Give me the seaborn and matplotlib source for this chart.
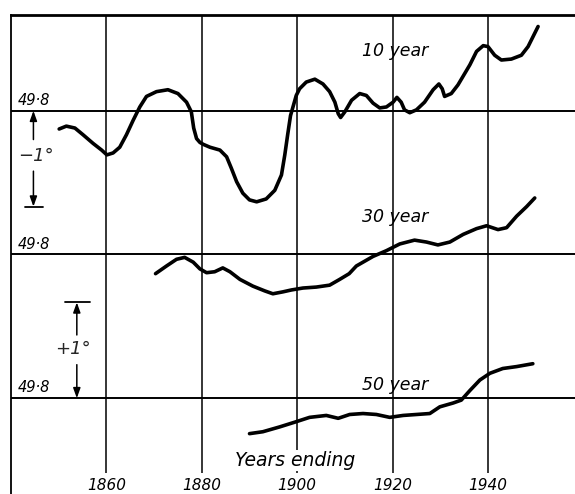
import numpy as np
import pandas as pd
import matplotlib
matplotlib.use("Agg")
import matplotlib.pyplot as plt
import seaborn as sns

# ---- data (deg F departures from 49.8, running means, years ending) ----
base_temp = 49.8

years_10 = [1850.1, 1851.6, 1853.4, 1855.1, 1857.2, 1859.0, 1860.1, 1861.4, 1862.8, 1864.2,
            1865.6, 1867.0, 1868.4, 1870.5, 1872.9, 1875.0, 1876.8, 1877.8, 1878.3, 1878.9,
            1879.6, 1880.3, 1881.7, 1883.8, 1885.2, 1886.2, 1887.3, 1888.6, 1890.0, 1891.5,
            1893.5, 1895.3, 1896.7, 1897.4, 1898.0, 1898.6, 1899.8, 1900.5, 1901.9, 1903.7,
            1905.4, 1906.8, 1907.9, 1908.6, 1909.1, 1910.0, 1911.4, 1913.1, 1914.5, 1915.9,
            1917.3, 1918.7, 1920.1, 1920.9, 1921.8, 1922.5, 1923.6, 1925.0, 1926.7, 1928.5,
            1929.7, 1930.4, 1930.9, 1932.3, 1933.7, 1936.2, 1937.6, 1939.0, 1940.0, 1941.4,
            1942.8, 1944.9, 1947.0, 1948.4, 1950.5]
dev_10 = [-0.19, -0.16, -0.18, -0.25, -0.34, -0.41, -0.46, -0.44, -0.38, -0.25,
          -0.10, 0.04, 0.15, 0.20, 0.22, 0.18, 0.09, -0.01, -0.18, -0.29,
          -0.33, -0.35, -0.38, -0.41, -0.48, -0.60, -0.74, -0.86, -0.93, -0.95,
          -0.92, -0.83, -0.67, -0.46, -0.25, -0.05, 0.16, 0.23, 0.30, 0.33,
          0.28, 0.20, 0.09, -0.03, -0.07, -0.01, 0.11, 0.18, 0.16, 0.08,
          0.03, 0.04, 0.09, 0.14, 0.09, 0.01, -0.02, 0.01, 0.09, 0.22,
          0.28, 0.23, 0.15, 0.18, 0.27, 0.48, 0.62, 0.68, 0.67, 0.58,
          0.53, 0.54, 0.58, 0.67, 0.88]

years_30 = [1870.3, 1872.6, 1874.7, 1876.4, 1878.2, 1879.6, 1881.0, 1882.7, 1884.4, 1885.9,
            1888.0, 1890.7, 1893.2, 1894.9, 1897.0, 1898.8, 1901.2, 1904.0, 1906.8, 1908.9,
            1910.9, 1912.4, 1915.9, 1918.7, 1921.5, 1924.6, 1927.1, 1929.5, 1932.0, 1934.8,
            1937.6, 1939.7, 1942.1, 1943.9, 1946.0, 1948.1, 1949.8]
dev_30 = [-0.20, -0.12, -0.05, -0.03, -0.08, -0.15, -0.19, -0.18, -0.14, -0.18,
          -0.26, -0.33, -0.38, -0.41, -0.39, -0.37, -0.35, -0.34, -0.32, -0.26,
          -0.20, -0.12, -0.02, 0.04, 0.11, 0.15, 0.13, 0.10, 0.13, 0.21,
          0.27, 0.30, 0.26, 0.28, 0.40, 0.50, 0.59]

years_50 = [1890.0, 1892.8, 1896.3, 1899.5, 1902.6, 1906.1, 1908.6, 1911.0, 1913.8, 1916.6,
            1919.4, 1922.2, 1925.0, 1927.8, 1929.9, 1932.7, 1934.4, 1936.2, 1938.3, 1940.4,
            1943.1, 1946.0, 1949.4]
dev_50 = [-0.37, -0.35, -0.30, -0.25, -0.20, -0.18, -0.21, -0.17, -0.16, -0.17,
          -0.20, -0.18, -0.17, -0.16, -0.09, -0.05, -0.02, 0.08, 0.19, 0.26,
          0.31, 0.33, 0.36]

series_names = ["10 year", "30 year", "50 year"]
tick_years = [1860, 1880, 1900, 1920, 1940]
base_label = "49·8"

# ---- layout (vertical offset of each panel baseline, in degrees) ----
offsets = {"10 year": 0.0, "30 year": -1.5, "50 year": -3.0}

frames = []
for name, yrs, dev in zip(series_names, [years_10, years_30, years_50], [dev_10, dev_30, dev_50]):
    temps = [base_temp + d for d in dev]
    df = pd.DataFrame({"year": yrs, "temp": temps})
    df["series"] = name
    df["y"] = df["temp"] - base_temp + offsets[name]
    frames.append(df)
data = pd.concat(frames, ignore_index=True)

sns.set_theme(style="white")
plt.rcParams["font.family"] = ["DejaVu Sans"]

fig = plt.figure(figsize=(5.75, 4.94), dpi=100)
ax = fig.add_axes([11 / 575, 0.0, 564 / 575, 479 / 494])
x0, x1 = 1840, 1840 + 564 / 4.77
ax.set_xlim(x0, x1)
ax.set_ylim(-4.0, 1.0)

# grid
ax.vlines(tick_years, -3.78, 1.0, color="black", lw=1.1, zorder=1)
for off in offsets.values():
    ax.axhline(off, color="black", lw=1.4, zorder=1)

# curves
for name in series_names:
    sns.lineplot(data=data[data["series"] == name], x="year", y="y", sort=False,
                 estimator=None, color="black", lw=2.6, ax=ax, legend=False,
                 solid_joinstyle="round", solid_capstyle="round", zorder=3)

# spines
for s in ["right", "bottom"]:
    ax.spines[s].set_visible(False)
ax.spines["top"].set_linewidth(2.0)
ax.spines["left"].set_linewidth(1.3)
for s in ["top", "left"]:
    ax.spines[s].set_color("black")
ax.set_xticks([])
ax.set_yticks([])
ax.set_xlabel("")
ax.set_ylabel("")

# curve labels
label_pos = {"10 year": 0.62, "30 year": -1.5 + 0.39, "50 year": -3.0 + 0.14}
for name in series_names:
    ax.text(1920.5, label_pos[name], name, ha="center", va="center", fontsize=12.5,
            style="italic", color="black", zorder=4)

# base labels
for off in offsets.values():
    ax.text(1841.5, off + 0.03, base_label, ha="left", va="bottom", fontsize=10.5,
            style="italic", color="black")

# tick labels
for yr in tick_years:
    ax.text(yr, -3.91, str(yr), ha="center", va="center", fontsize=11,
            style="italic", color="black")
ax.text(1899.5, -3.65, "Years ending", ha="center", va="center", fontsize=13.5,
        style="italic", color="black", zorder=4,
        bbox=dict(facecolor="white", edgecolor="none", pad=0.5))

# scale arrows
arrow_kw = dict(arrowstyle="-|>,head_length=0.5,head_width=0.18", color="black", lw=1.1,
                shrinkA=0, shrinkB=0)
xa = 1844.7
ax.annotate("", xy=(xa, 0.0), xytext=(xa, -0.30), arrowprops=arrow_kw)
ax.annotate("", xy=(xa, -1.0), xytext=(xa, -0.63), arrowprops=arrow_kw)
ax.plot([1842.9, 1846.7], [-1.0, -1.0], color="black", lw=1.3)
ax.text(1845.2, -0.47, "−1°", ha="center", va="center", fontsize=13, style="italic")

xb = 1853.8
ax.annotate("", xy=(xb, -2.0), xytext=(xb, -2.34), arrowprops=arrow_kw)
ax.annotate("", xy=(xb, -3.0), xytext=(xb, -2.65), arrowprops=arrow_kw)
ax.plot([1851.3, 1856.6], [-2.0, -2.0], color="black", lw=1.3)
ax.text(1852.9, -2.49, "+1°", ha="center", va="center", fontsize=13, style="italic")

fig.savefig("out.png", dpi=100, facecolor="white")
